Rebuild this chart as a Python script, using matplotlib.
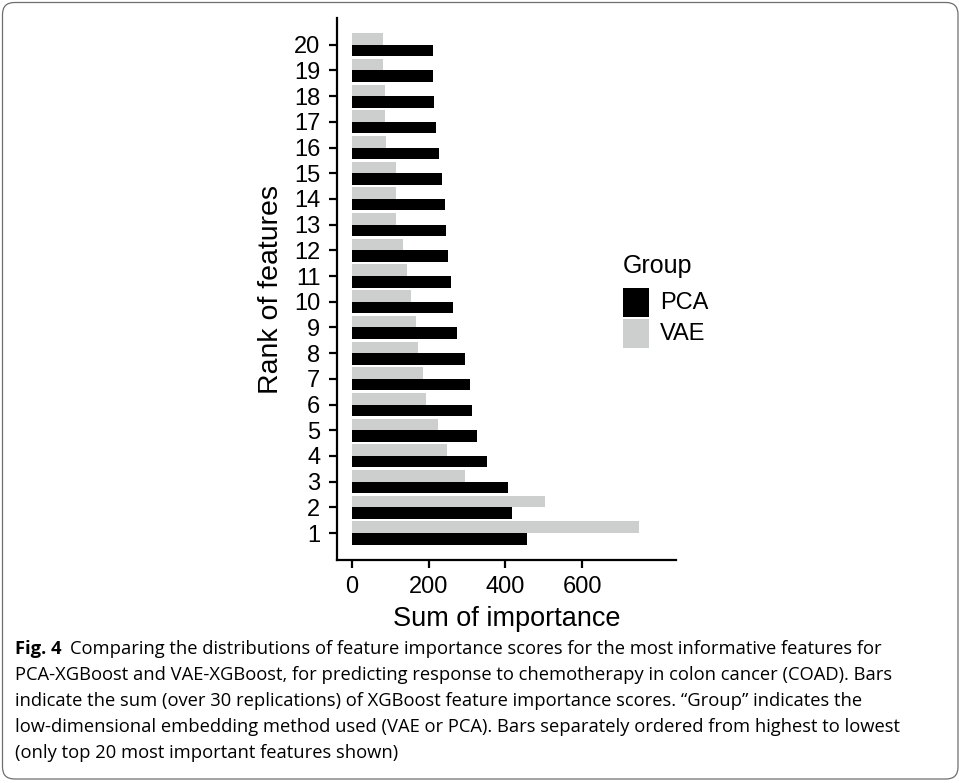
import matplotlib
matplotlib.use("Agg")
import matplotlib.pyplot as plt
from matplotlib.patches import Rectangle, FancyBboxPatch
import numpy as np

ranks = list(range(1, 21))
pca_values = [456, 417, 407, 352, 326, 313, 308, 295, 274, 264,
              258, 250, 245, 243, 235, 227, 219, 214, 211, 211]
vae_values = [749, 503, 295, 248, 224, 193, 185, 172, 167, 154,
              143, 133, 115, 115, 115, 89, 86, 86, 81, 81]
groups = ["PCA", "VAE"]
colors = {"PCA": "#000000", "VAE": "#cdcfce"}
x_ticks = [0, 200, 400, 600]

caption_bold = "Fig. 4"
caption_lines = [
    "Comparing the distributions of feature importance scores for the most informative features for",
    "PCA-XGBoost and VAE-XGBoost, for predicting response to chemotherapy in colon cancer (COAD). Bars",
    "indicate the sum (over 30 replications) of XGBoost feature importance scores. \u201cGroup\u201d indicates the",
    "low-dimensional embedding method used (VAE or PCA). Bars separately ordered from highest to lowest",
    "(only top 20 most important features shown)",
]

W, H = 959, 783
plt.rcParams['font.family'] = ['Liberation Sans', 'DejaVu Sans']
fig = plt.figure(figsize=(W / 100, H / 100), dpi=100)

def fx(x):
    return x / W

def fy(y):
    return 1 - y / H

ax = fig.add_axes([fx(337), fy(560), fx(676) - fx(337), fy(18) - fy(560)])

y = np.array(ranks, dtype=float)
bh = 0.45
ax.barh(y - bh / 2, pca_values, height=bh, color=colors["PCA"], label="PCA")
ax.barh(y + bh / 2, vae_values, height=bh, color=colors["VAE"], label="VAE")

ax.set_xlim(-39, 845)
ax.set_ylim(-0.05, 21.04)
ax.set_yticks(ranks)
ax.set_yticklabels([str(r) for r in ranks])
ax.set_xticks(x_ticks)
ax.set_xticklabels([str(t) for t in x_ticks])

for s in ["top", "right"]:
    ax.spines[s].set_visible(False)
for s in ["left", "bottom"]:
    ax.spines[s].set_linewidth(1.6)
    ax.spines[s].set_color("black")
ax.tick_params(axis="both", which="major", length=6, width=1.6, color="black",
               labelsize=17, labelcolor="black")
ax.tick_params(axis="y", pad=6)
ax.tick_params(axis="x", pad=5.5)
ax.set_xlabel("Sum of importance", fontsize=19.5, labelpad=6)
ax.set_ylabel("Rank of features", fontsize=20.5, labelpad=7)

# legend
fig.text(fx(623), fy(266), "Group", fontsize=18, ha="left", va="center")
fig.patches.append(Rectangle((fx(623), fy(317)), fx(649) - fx(623), fy(288) - fy(317),
                             transform=fig.transFigure, color=colors["PCA"], lw=0))
fig.patches.append(Rectangle((fx(623), fy(348)), fx(649) - fx(623), fy(319) - fy(348),
                             transform=fig.transFigure, color=colors["VAE"], lw=0))
fig.text(fx(660), fy(303), groups[0], fontsize=17, ha="left", va="center")
fig.text(fx(660), fy(334), groups[1], fontsize=17, ha="left", va="center")

# frame
frame = FancyBboxPatch((2.5, H - 779), 955.5, 776.5,
                       boxstyle="round,pad=0,rounding_size=12",
                       transform=None, fill=False, edgecolor="#6e6e6e", lw=0.9)
fig.patches.append(frame)

# caption
cap_font = ['Open Sans', 'DejaVu Sans']
cap_size = 13.2
fig.canvas.draw()
renderer = fig.canvas.get_renderer()
baselines = [654, 680, 706, 732, 758]
tb = fig.text(fx(15), fy(baselines[0]), caption_bold, fontsize=cap_size, family=cap_font,
              fontweight="bold", ha="left", va="baseline")
bb = tb.get_window_extent(renderer)
x_after = bb.x1 + 9
fig.text(x_after / W, fy(baselines[0]), caption_lines[0], fontsize=cap_size, family=cap_font,
         ha="left", va="baseline")
for line, b in zip(caption_lines[1:], baselines[1:]):
    fig.text(fx(15), fy(b), line, fontsize=cap_size, family=cap_font, ha="left", va="baseline")

fig.savefig("out.png", dpi=100)
